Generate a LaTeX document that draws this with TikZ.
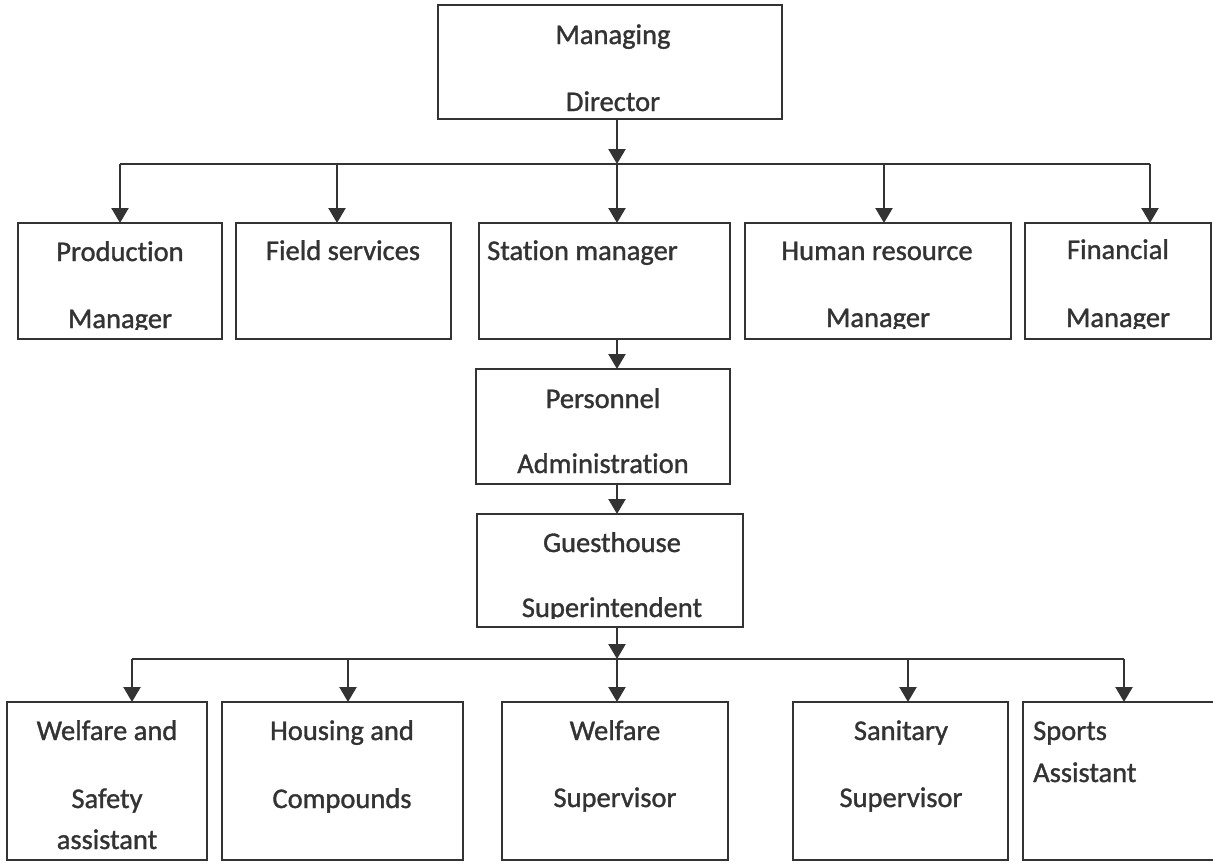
\documentclass[tikz,border=0pt]{standalone}
\usepackage{fontspec}
\setmainfont{Carlito}[Ligatures=NoCommon, FakeBold=1.2]
\usetikzlibrary{arrows.meta}
\definecolor{ink}{HTML}{333333}

% box given by its corners: name, x1, y1, x2, y2
\newcommand\orgbox[5]{%
  \node[box, minimum width={#4pt-#2pt}, minimum height={#5pt-#3pt}]
    (#1) at ({(#2+#4)/2},{(#3+#5)/2}) {};}

\begin{document}
\begin{tikzpicture}[x=1pt, y=-1pt,
  box/.style={draw=ink, line width=2.3pt, inner sep=0pt, outer sep=0pt},
  lbl/.style={anchor=base, text=ink, inner sep=0pt,
    font=\fontsize{28.5}{30}\selectfont},
  lblw/.style={lbl, anchor=base west},
  link/.style={draw=ink, line width=2.3pt, -{Triangle[length=15pt,width=17pt]}},
  bus/.style={draw=ink, line width=2.3pt}]

\clip (0,0) rectangle (1213,863);
\fill[white] (0,0) rectangle (1213,863);

% ---- boxes ----
\orgbox{md}{438}{5}{782}{119}
\orgbox{pm}{18}{223}{222}{339}
\orgbox{fs}{236}{223}{451}{339}
\orgbox{sm}{479}{223}{730}{339}
\orgbox{hr}{745}{223}{1011}{339}
\orgbox{fm}{1025}{223}{1211}{339}
\orgbox{pa}{476}{369}{730}{484}
\orgbox{gs}{477}{514}{743}{627}
\orgbox{ws}{7}{702}{207}{860}
\orgbox{hc}{222}{702}{463}{860}
\orgbox{wv}{502}{702}{728}{860}
\orgbox{sv}{793}{702}{1008}{860}
\orgbox{sa}{1023}{702}{1218}{860}

% ---- labels ----
\node[lbl] (md-a) at (613,44) {Managing};
\node[lbl] (md-b) at (613,111) {Director};

\node[lbl] (pm-a) at (120,261) {Production};
\begin{scope}
  \clip (18,300) rectangle (222,329);
  \node[lbl] (pm-b) at (120,328) {Manager};
\end{scope}
\node[lbl] (fs-a) at (343,260) {Field services};
\node[lblw] (sm-a) at (487,260) {Station manager};
\node[lbl] (hr-a) at (877,260) {Human resource};
\begin{scope}
  \clip (745,300) rectangle (1011,328);
  \node[lbl] (hr-b) at (878,327) {Manager};
\end{scope}
\node[lbl] (fm-a) at (1118,259) {Financial};
\begin{scope}
  \clip (1025,300) rectangle (1211,328);
  \node[lbl] (fm-b) at (1118,327) {Manager};
\end{scope}

\node[lbl] (pa-a) at (603,408) {Personnel};
\node[lbl] (pa-b) at (603,473) {Administration};

\node[lbl] (gs-a) at (612,552) {Guesthouse};
\begin{scope}
  \clip (477,590) rectangle (743,618);
  \node[lbl] (gs-b) at (612,617) {Superintendent};
\end{scope}

\node[lbl] (ws-a) at (107,740) {Welfare and};
\node[lbl] (ws-b) at (107,808) {Safety};
\node[lbl] (ws-c) at (107,849) {assistant};
\node[lbl] (hc-a) at (342,740) {Housing and};
\node[lbl] (hc-b) at (342,808) {Compounds};
\node[lbl] (wv-a) at (615,740) {Welfare};
\node[lbl] (wv-b) at (615,807) {Supervisor};
\node[lbl] (sv-a) at (901,740) {Sanitary};
\node[lbl] (sv-b) at (901,807) {Supervisor};
\node[lblw] (sa-a) at (1033,740) {Sports};
\node[lblw] (sa-b) at (1033,782) {Assistant};

% ---- upper distribution line ----
\coordinate (b1) at (617,164);
\coordinate (b1l) at (120,164);
\coordinate (b1r) at (1150,164);
\coordinate (d-fs) at (337,164);
\coordinate (d-hr) at (884,164);
\draw[bus] (b1l) -- (b1r);
\draw[link] (md.south -| b1) -- (b1);
\draw[link] (b1l) -- (b1l |- pm.north);
\draw[link] (d-fs) -- (d-fs |- fs.north);
\draw[link] (b1) -- (b1 |- sm.north);
\draw[link] (d-hr) -- (d-hr |- hr.north);
\draw[link] (b1r) -- (b1r |- fm.north);

% ---- vertical chain ----
\draw[link] (sm.south -| b1) -- (pa.north -| b1);
\draw[link] (pa.south -| b1) -- (gs.north -| b1);

% ---- lower distribution line ----
\coordinate (b2) at (617,659);
\coordinate (b2l) at (132,659);
\coordinate (b2r) at (1124,659);
\coordinate (d-hc) at (348,659);
\coordinate (d-sv) at (908,659);
\draw[bus] (b2l) -- (b2r);
\draw[link] (gs.south -| b2) -- (b2);
\draw[link] (b2l) -- (b2l |- ws.north);
\draw[link] (d-hc) -- (d-hc |- hc.north);
\draw[link] (b2) -- (b2 |- wv.north);
\draw[link] (d-sv) -- (d-sv |- sv.north);
\draw[link] (b2r) -- (b2r |- sa.north);
\end{tikzpicture}
\end{document}
